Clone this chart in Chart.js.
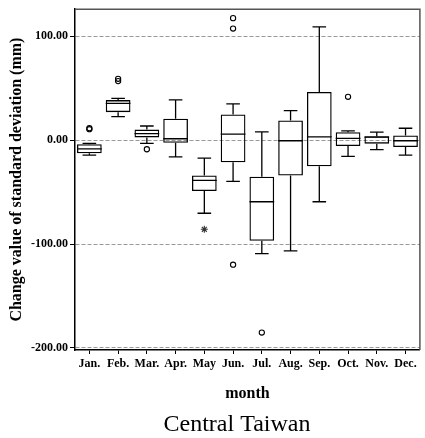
<!DOCTYPE html>
<html>
<head>
<meta charset="utf-8">
<script src="https://cdn.jsdelivr.net/npm/chart.js@4/dist/chart.umd.min.js"></script>
<style>
  html, body { margin: 0; padding: 0; background: #fff; }
  #wrap { width: 425px; height: 438px; position: relative; }
</style>
</head>
<body>
<div id="wrap"><canvas id="c"></canvas></div>
<script>
// ---- data ----
const months = ['Jan.','Feb.','Mar.','Apr.','May','Jun.','Jul.','Aug.','Sep.','Oct.','Nov.','Dec.'];
const whiskerLow  = [-14.5, 22.7, -3.1, -16.1, -70.4, -39.8, -109.2, -106.6, -59.3, -15.7, -9.1, -14.5];
const q1          = [-12.6, 26.9,  2.6,  -2.5, -48.9, -21.4,  -96.9,  -34.1, -25.2,  -5.7, -3.4,  -6.6];
const median      = [ -8.5, 35.4,  6.3,   1.3, -38.8,   5.7,  -59.3,   -0.6,   3.2,   1.6,  2.8,  -0.6];
const q3          = [ -4.0, 38.5, 10.1,  20.5, -34.1,  24.6,  -35.3,   18.9,  46.4,   7.6,  3.8,   4.5];
const whiskerHigh = [ -3.1, 40.2, 13.6,  38.8, -17.3,  34.8,    7.9,   28.4, 108.9,   8.9,  7.6,  11.4];
const outlierMonths = ['Jan.','Jan.','Feb.','Feb.','Mar.','Jun.','Jun.','Jun.','Jul.','Oct.'];
const outlierValues = [10.5, 11.5, 59.0, 56.8, -8.8, 117.4, 107.4, -119.9, -185.2, 41.7];
const extremeMonths = ['May'];
const extremeValues = [-85.8];
const yTicks = [-200, -100, 0, 100];
const yMin = -202, yMax = 126;

const serif = "'Liberation Serif', 'DejaVu Serif', serif";

const boxPlugin = {
  id: 'boxWhiskers',
  afterDatasetsDraw(chart) {
    const {ctx, scales: {x, y}} = chart;
    const meta = chart.getDatasetMeta(0);
    ctx.save();
    ctx.strokeStyle = '#000';
    ctx.lineWidth = 1.3;
    months.forEach((m, i) => {
      const bar = meta.data[i];
      const cx = x.getPixelForValue(i);
      const half = bar.width / 2;
      const cap = half * 0.55;
      const yLo = y.getPixelForValue(whiskerLow[i]);
      const yQ1 = y.getPixelForValue(q1[i]);
      const yMed = y.getPixelForValue(median[i]);
      const yQ3 = y.getPixelForValue(q3[i]);
      const yHi = y.getPixelForValue(whiskerHigh[i]);
      ctx.beginPath();
      ctx.moveTo(cx, yQ3); ctx.lineTo(cx, yHi);
      ctx.moveTo(cx - cap, yHi); ctx.lineTo(cx + cap, yHi);
      ctx.moveTo(cx, yQ1); ctx.lineTo(cx, yLo);
      ctx.moveTo(cx - cap, yLo); ctx.lineTo(cx + cap, yLo);
      ctx.moveTo(cx - half, yMed); ctx.lineTo(cx + half, yMed);
      ctx.stroke();
    });
    ctx.restore();
  },
  afterDraw(chart) {
    const {ctx, chartArea: a} = chart;
    ctx.save();
    ctx.strokeStyle = '#555';
    ctx.lineWidth = 1.5;
    ctx.beginPath();
    ctx.moveTo(a.left, a.top); ctx.lineTo(a.right, a.top); ctx.lineTo(a.right, a.bottom);
    ctx.stroke();
    ctx.fillStyle = '#000';
    ctx.font = "24px " + serif;
    ctx.textAlign = 'center';
    ctx.textBaseline = 'middle';
    ctx.fillText('Central Taiwan', 237, 425);
    ctx.restore();
  }
};

new Chart(document.getElementById('c'), {
  data: {
    labels: months,
    datasets: [
      {
        type: 'bar',
        data: months.map((m, i) => [q1[i], q3[i]]),
        backgroundColor: 'rgba(0,0,0,0)',
        borderColor: '#000',
        borderWidth: 1.3,
        borderSkipped: false,
        barPercentage: 0.86,
        categoryPercentage: 1.0
      },
      {
        type: 'line',
        showLine: false,
        data: outlierMonths.map((m, i) => ({x: m, y: outlierValues[i]})),
        pointStyle: 'circle',
        pointRadius: 2.6,
        pointBorderWidth: 1.1,
        pointBorderColor: '#000',
        pointBackgroundColor: 'rgba(0,0,0,0)'
      },
      {
        type: 'line',
        showLine: false,
        data: extremeMonths.map((m, i) => ({x: m, y: extremeValues[i]})),
        pointStyle: 'star',
        pointRadius: 3.5,
        pointBorderWidth: 1.1,
        pointBorderColor: '#333'
      }
    ]
  },
  options: {
    responsive: true,
    maintainAspectRatio: false,
    animation: false,
    layout: { padding: { left: 0, right: 4, top: 4, bottom: 31.6 } },
    plugins: { legend: { display: false }, tooltip: { enabled: false } },
    scales: {
      x: {
        type: 'category',
        offset: true,
        grid: { display: true, drawOnChartArea: false, drawTicks: true, tickLength: 4, tickColor: '#000', offset: false },
        border: { display: true, color: '#000', width: 1.5 },
        ticks: { color: '#000', font: { family: serif, size: 12, weight: 'bold' }, padding: 3, maxRotation: 0, autoSkip: false },
        title: { display: true, text: 'month', color: '#000', font: { family: serif, size: 16, weight: 'bold' }, padding: { top: 4, bottom: 2.8 } },
        afterFit(s) { s.height = 56.4; }
      },
      y: {
        type: 'linear',
        min: yMin, max: yMax,
        afterBuildTicks(s) { s.ticks = yTicks.map(v => ({ value: v })); },
        grid: { color: '#999', lineWidth: 1, drawTicks: true, tickLength: 5, tickColor: '#000' },
        border: { display: true, color: '#000', width: 1.5, dash: [4, 2] },
        ticks: { color: '#000', font: { family: serif, size: 12, weight: 'bold' }, padding: 2, callback: v => v.toFixed(2) },
        title: { display: true, text: 'Change value of standard deviation (mm)', color: '#000', font: { family: serif, size: 16, weight: 'bold' }, padding: { top: 7.4, bottom: 0 } },
        afterFit(s) { s.width = 75; }
      }
    }
  },
  plugins: [boxPlugin]
});
</script>
</body>
</html>
